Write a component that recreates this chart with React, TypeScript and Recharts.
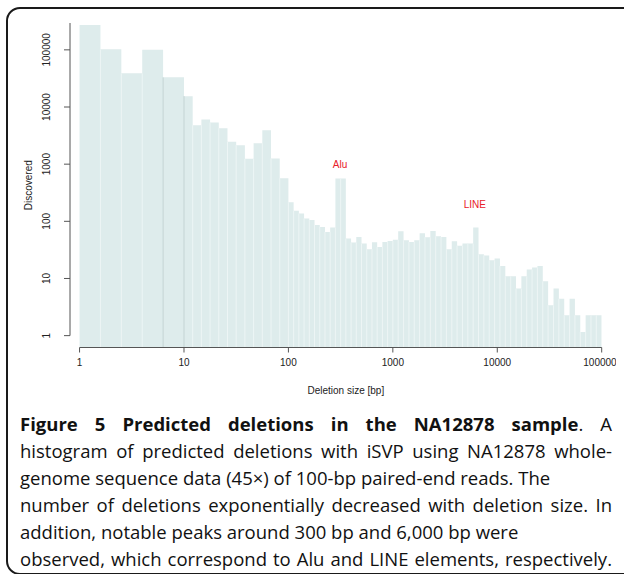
import React from "react";
import { ComposedChart, Area, XAxis, YAxis, ReferenceLine, ReferenceDot } from "recharts";

// histogram bin layout (log spaced, bins per range)
const binRanges = [
  { from: 1, to: 10, bins: 5 },
  { from: 10, to: 100, bins: 12 },
  { from: 100, to: 1000, bins: 20 },
  { from: 1000, to: 100000, bins: 39 },
];

// counts per bin
const countsBelow10 = [272000, 102000, 38800, 100400, 33000];
const counts10to100 = [15500, 4820, 6070, 5370, 4270, 2460, 2150, 1240, 2330, 3940, 1260, 569];
const counts100to1k = [216, 153, 137, 112, 105, 86.5, 79.8, 65.3, 77.9, 562, 562, 50, 42.5, 53.3, 40.8, 32.5, 43, 35.6, 43.6, 45.4];
const counts1kUp = [
  47.5, 67, 46.7, 43.6, 46.7, 62, 52.5, 67.9, 54.8, 53.3, 32.5, 44.8, 37.5, 40.8, 40.8, 77.9, 26.5, 25.3, 20.8, 22.3,
  16.6, 10.9, 10.9, 6.65, 10.9, 14.3, 15.6, 16.6, 8.93, 3.4, 6.65, 4.4, 2.27, 4.4, 2.27, 1.16, 2.27, 2.27, 2.27,
];

const xTicks = [1, 10, 100, 1000, 10000, 100000];
const yTicks = [1, 10, 100, 1000, 10000, 100000];
const peaks = [
  { name: "Alu", size: 312, count: 1000 },
  { name: "LINE", size: 6100, count: 200 },
];
const darkEdges = [6.31, 10];

const captionLines = [
  "histogram of predicted deletions with iSVP using NA12878 whole-",
  "genome sequence data (45×) of 100-bp paired-end reads. The",
  "number of deletions exponentially decreased with deletion size. In",
  "addition, notable peaks around 300 bp and 6,000 bp were",
  "observed, which correspond to Alu and LINE elements, respectively.",
];
const justifiedLines = [true, false, true, false, true];

const X_MIN = 0.81;
const X_MAX = 100000;
const Y_MIN = 0.62;
const Y_MAX = 295000;

const allCounts = [countsBelow10, counts10to100, counts100to1k, counts1kUp];

type Pt = { size: number; count: number };

function buildData(): { pts: Pt[]; edges: { x: number; h: number }[] } {
  const pts: Pt[] = [];
  binRanges.forEach((r, i) => {
    const vals = allCounts[i];
    for (let k = 0; k < r.bins; k++) {
      const left = r.from * Math.pow(r.to / r.from, k / r.bins);
      pts.push({ size: left, count: vals[k] });
    }
  });
  const last = pts[pts.length - 1].count;
  pts.push({ size: X_MAX, count: last });
  const edges: { x: number; h: number }[] = [];
  for (let i = 1; i < pts.length - 1; i++) {
    edges.push({ x: pts[i].size, h: Math.min(pts[i - 1].count, pts[i].count) });
  }
  return { pts, edges };
}

const { pts, edges } = buildData();

const axisFont = "'Liberation Sans', Arial, Helvetica, sans-serif";

function YTick(props: any) {
  const { y, payload } = props;
  const bx = 50;
  return (
    <text
      x={bx}
      y={y}
      transform={`rotate(-90, ${bx}, ${y})`}
      textAnchor="middle"
      fontSize={10}
      fill="#222"
      fontFamily={axisFont}
    >
      {String(payload.value)}
    </text>
  );
}

function XTick(props: any) {
  const { x, y, payload } = props;
  return (
    <text x={x} y={y + 11} textAnchor="middle" fontSize={10} fill="#222" fontFamily={axisFont}>
      {String(payload.value)}
    </text>
  );
}

export default function App() {
  return (
    <div
      style={{
        position: "absolute",
        left: 0,
        top: 0,
        width: 624,
        height: 574,
        overflow: "hidden",
        background: "#fff",
      }}
    >
      <div
        style={{
          position: "absolute",
          left: 6,
          top: 7,
          width: 640,
          height: 568,
          boxSizing: "border-box",
          border: "2px solid #1a1a1a",
          borderRadius: 14,
        }}
      />
      <div style={{ position: "absolute", left: 0, top: 0, width: 616, height: 410, overflow: "hidden" }}>
        <ComposedChart
          width={624}
          height={410}
          data={pts}
          margin={{ top: 23, right: 22.3, left: 20, bottom: 12.5 }}
        >
          <XAxis
            dataKey="size"
            type="number"
            scale="log"
            domain={[X_MIN, X_MAX]}
            ticks={xTicks}
            allowDataOverflow
            height={50}
            axisLine={false}
            tickLine={{ stroke: "#555" }}
            tickSize={5}
            tick={<XTick />}
            label={{
              value: "Deletion size [bp]",
              position: "insideBottom",
              offset: 4,
              dx: 10,
              fontSize: 10,
              fill: "#222",
              fontFamily: axisFont,
            }}
          />
          <YAxis
            type="number"
            scale="log"
            domain={[Y_MIN, Y_MAX]}
            ticks={yTicks}
            allowDataOverflow
            width={50}
            axisLine={false}
            tickLine={{ stroke: "#555" }}
            tickSize={6}
            tick={<YTick />}
            label={{
              value: "Discovered",
              angle: -90,
              position: "insideLeft",
              offset: 8,
              fontSize: 10,
              fill: "#222",
              fontFamily: axisFont,
              style: { textAnchor: "middle" },
            }}
          />
          <Area
            dataKey="count"
            type="stepAfter"
            stroke="none"
            fill="#deecec"
            fillOpacity={1}
            baseValue={Y_MIN}
            dot={false}
            activeDot={false}
            isAnimationActive={false}
          />
          {edges.map((e, i) => (
            <ReferenceLine
              key={"e" + i}
              segment={[
                { x: e.x, y: Y_MIN },
                { x: e.x, y: e.h },
              ]}
              stroke={darkEdges.some((d) => Math.abs(d - e.x) / d < 0.01) ? "#c4d4d4" : "#edf5f5"}
              strokeWidth={1}
            />
          ))}
          <ReferenceLine
            segment={[
              { x: 1, y: Y_MIN },
              { x: X_MAX, y: Y_MIN },
            ]}
            stroke="#555"
            strokeWidth={1}
          />
          <ReferenceLine
            segment={[
              { x: X_MIN, y: 1 },
              { x: X_MIN, y: Y_MAX },
            ]}
            stroke="#555"
            strokeWidth={1}
          />
          {peaks.map((p) => (
            <ReferenceDot
              key={p.name}
              x={p.size}
              y={p.count}
              r={0}
              fill="none"
              stroke="none"
              label={{ value: p.name, position: "center", fontSize: 10, fill: "#e8202a", fontFamily: axisFont }}
            />
          ))}
        </ComposedChart>
      </div>
      <div
        style={{
          position: "absolute",
          left: 20,
          top: 410,
          width: 592,
          fontFamily: "'Open Sans', 'Noto Sans', sans-serif",
          fontSize: 18.5,
          lineHeight: "27px",
          color: "#111",
        }}
      >
        <div style={{ textAlign: "justify", textAlignLast: "justify", whiteSpace: "nowrap" } as any}>
          <span style={{ fontWeight: 700 }}>Figure 5 Predicted deletions in the NA12878 sample</span>. A
        </div>
        {captionLines.map((t, i) => (
          <div
            key={i}
            style={{
              textAlign: justifiedLines[i] ? "justify" : "left",
              textAlignLast: justifiedLines[i] ? "justify" : "auto",
              whiteSpace: "nowrap",
            } as any}
          >
            {t}
          </div>
        ))}
      </div>
    </div>
  );
}
